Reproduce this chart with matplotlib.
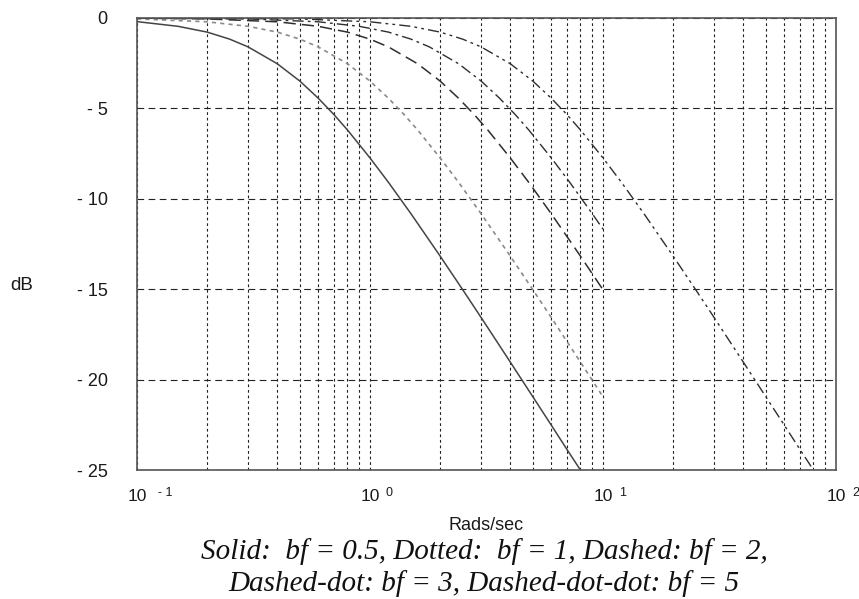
import matplotlib.pyplot as plt
from matplotlib.ticker import LogLocator, NullFormatter

# --- data (rad/s, dB) ---
w_solid = [0.1, 0.15, 0.2, 0.25, 0.3, 0.4, 0.5, 0.6, 0.7, 0.8, 1.0, 1.2, 1.5,
           2.0, 2.5, 3.0, 4.0, 5.0, 6.0, 7.0, 8.0]
db_solid = [-0.2, -0.46, -0.78, -1.17, -1.6, -2.53, -3.49, -4.44, -5.34, -6.19,
            -7.74, -9.09, -10.83, -13.17, -15.03, -16.57, -19.03, -20.95,
            -22.52, -23.86, -25.0]

w_dot = [0.1, 0.2, 0.3, 0.4, 0.5, 0.6, 0.8, 1.0, 1.2, 1.4, 1.6, 2.0, 2.4, 3.0,
         4.0, 5.0, 6.0, 8.0, 10.0]
db_dot = [-0.05, -0.21, -0.46, -0.78, -1.17, -1.6, -2.53, -3.49, -4.44, -5.34,
          -6.19, -7.74, -9.09, -10.83, -13.17, -15.03, -16.57, -19.03, -20.95]

w_dash = [0.1, 0.2, 0.4, 0.6, 0.8, 1.0, 1.2, 1.6, 2.0, 2.4, 2.8, 3.2, 4.0, 4.8,
          6.0, 8.0, 10.0]
db_dash = [-0.01, -0.05, -0.21, -0.46, -0.78, -1.17, -1.6, -2.53, -3.49, -4.44,
           -5.34, -6.19, -7.74, -9.09, -10.83, -13.17, -15.03]

w_dashdot = [0.1, 0.3, 0.6, 0.9, 1.2, 1.5, 1.8, 2.4, 3.0, 3.6, 4.2, 4.8, 6.0,
             7.2, 9.0, 10.0]
db_dashdot = [-0.01, -0.05, -0.21, -0.46, -0.78, -1.17, -1.6, -2.53, -3.49,
              -4.44, -5.34, -6.19, -7.74, -9.09, -10.83, -11.68]

w_dashdotdot = [0.1, 0.5, 1.0, 1.5, 2.0, 2.5, 3.0, 4.0, 5.0, 6.0, 7.0, 8.0, 10,
                12, 15, 20, 25, 30, 40, 50, 60, 70, 80]
db_dashdotdot = [0.0, -0.05, -0.21, -0.46, -0.78, -1.17, -1.6, -2.53, -3.49,
                 -4.44, -5.34, -6.19, -7.74, -9.09, -10.83, -13.17, -15.03,
                 -16.57, -19.03, -20.95, -22.52, -23.86, -25.0]

y_ticks = [0, -5, -10, -15, -20, -25]
y_tick_labels = ['0', '- 5', '- 10', '- 15', '- 20', '- 25']
x_ticks = [0.1, 1, 10, 100]
x_exponents = ['- 1', '0', '1', '2']

caption1 = 'Solid:  bf = 0.5, Dotted:  bf = 1, Dashed: bf = 2,'
caption2 = 'Dashed-dot: bf = 3, Dashed-dot-dot: bf = 5'

plt.rcParams['font.family'] = ['Liberation Sans', 'DejaVu Sans']
W, H = 859, 599
fig = plt.figure(figsize=(W / 100, H / 100), dpi=100)
ax = fig.add_axes([137 / W, 1 - 470 / H, (836 - 137) / W, (470 - 18) / H])

ax.set_xscale('log')
ax.set_xlim(0.1, 100)
ax.set_ylim(-25, 0)

# grid: dotted verticals on every decade step, dashed horizontals
ax.xaxis.set_minor_locator(LogLocator(base=10, subs=range(2, 10)))
ax.xaxis.set_minor_formatter(NullFormatter())
ax.grid(True, which='both', axis='x', color='#222222', lw=0.8, ls=(0, (2.5, 2.5)))
ax.grid(True, which='major', axis='y', color='#222222', lw=0.8, ls=(0, (6, 4)))

ink = '#2e2e2e'
ax.plot(w_solid, db_solid, color='#444444', lw=1.1, ls='-')
ax.plot(w_dot, db_dot, color='#8a8a8a', lw=1.2, ls=(0, (2.5, 2.5)))
ax.plot(w_dash, db_dash, color=ink, lw=1.1, ls=(0, (8, 4)))
ax.plot(w_dashdot, db_dashdot, color=ink, lw=1.0, ls=(0, (8, 3, 2, 3)))
ax.plot(w_dashdotdot, db_dashdotdot, color=ink, lw=1.0, ls=(0, (8, 3, 2, 3, 2, 3)))

for s in ax.spines.values():
    s.set_color('#555555')
    s.set_linewidth(1.2)

txt = '#1a1a1a'
ax.set_yticks(y_ticks)
ax.set_yticklabels(y_tick_labels)
ax.tick_params(axis='y', length=0, pad=21, labelsize=13, labelcolor=txt)
ax.set_xticks(x_ticks)
ax.set_xticklabels([])
ax.tick_params(axis='x', which='both', length=0)

for xt, ex in zip(x_ticks, x_exponents):
    ax.annotate('10', xy=(xt, 0), xycoords=('data', 'axes fraction'),
                xytext=(0, -14), textcoords='offset points',
                ha='center', va='top', fontsize=12.5, color=txt)
    dx = 15 if ex.startswith('-') else 11.5
    ax.annotate(ex, xy=(xt, 0), xycoords=('data', 'axes fraction'),
                xytext=(dx, -12), textcoords='offset points',
                ha='left', va='top', fontsize=9, color=txt)

fig.text(10 / W, 1 - 285 / H, 'dB', ha='left', va='center', fontsize=13.5,
         color=txt)
fig.text(486 / W, 1 - 526 / H, 'Rads/sec', ha='center', va='center',
         fontsize=13, color=txt)
fig.text(484 / W, 1 - 552 / H, caption1, ha='center', va='center',
         fontsize=21, family='Liberation Serif', style='italic', color='#111111')
fig.text(484 / W, 1 - 584 / H, caption2, ha='center', va='center',
         fontsize=21, family='Liberation Serif', style='italic', color='#111111')

fig.savefig('out.png', dpi=100)
